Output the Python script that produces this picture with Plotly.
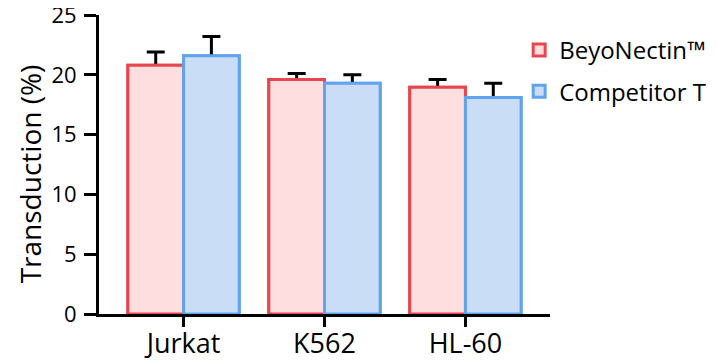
import plotly.graph_objects as go

categories = ["Jurkat", "K562", "HL-60"]
beyo_vals = [20.8, 19.6, 18.95]
beyo_err = [1.1, 0.5, 0.65]
comp_vals = [21.6, 19.3, 18.1]
comp_err = [1.6, 0.7, 1.2]
y_ticks = [0, 5, 10, 15, 20, 25]

RED_LINE = "#E8464E"
RED_FILL = "#FFDEE0"
BLUE_LINE = "#62A3EE"
BLUE_FILL = "#C9DDF7"
FONT = "Open Sans"
BW = 0.395

fig = go.Figure()

for name, vals, err, fill, line, off in [
    ("BeyoNectin™", beyo_vals, beyo_err, RED_FILL, RED_LINE, -BW),
    ("Competitor T", comp_vals, comp_err, BLUE_FILL, BLUE_LINE, 0.0),
]:
    fig.add_trace(go.Bar(
        x=categories, y=vals, width=BW, offset=off, showlegend=False,
        marker=dict(color=fill, line=dict(color=line, width=3)),
        error_y=dict(type="data", array=err, symmetric=True, color="black", thickness=3, width=9),
        hoverinfo="skip",
    ))

for i, (name, vals, fill, line, off) in enumerate([
    ("BeyoNectin™", beyo_vals, RED_FILL, RED_LINE, -BW),
    ("Competitor T", comp_vals, BLUE_FILL, BLUE_LINE, 0.0),
]):
    fig.add_trace(go.Bar(
        x=categories, y=vals, width=BW, offset=off, name=name,
        legendgroup=f"g{i}",
        marker=dict(color=fill, line=dict(color=line, width=3)),
    ))

fig.update_layout(
    width=710, height=352,
    margin=dict(l=91, r=166, t=7, b=46),
    barmode="overlay",
    plot_bgcolor="white", paper_bgcolor="white",
    font=dict(family=FONT, size=22, color="black"),
    showlegend=True,
    legend=dict(
        x=0.9316, y=0.9565, xanchor="left", yanchor="top",
        font=dict(family=FONT, size=24, color="black"),
        traceorder="grouped", tracegroupgap=7,
        bgcolor="rgba(0,0,0,0)",
    ),
    xaxis=dict(
        type="category", range=[-0.6, 2.6], automargin=False,
        showline=True, linecolor="black", linewidth=3,
        ticks="outside", ticklen=10, tickwidth=3, tickcolor="black",
        tickfont=dict(size=27), ticklabelstandoff=-6,
        showgrid=False, zeroline=False,
    ),
    yaxis=dict(
        range=[0, 25], tickvals=y_ticks, automargin=False,
        showline=True, linecolor="black", linewidth=3,
        ticks="outside", ticklen=12, tickwidth=3, tickcolor="black",
        tickfont=dict(size=22), ticklabelstandoff=3, ticklabeloverflow="allow",
        showgrid=False, zeroline=False,
    ),
    annotations=[dict(
        text="Transduction (%)", textangle=-90, showarrow=False,
        xref="paper", yref="paper", x=-0.1523, y=0.4682,
        xanchor="center", yanchor="middle",
        font=dict(family=FONT, size=28, color="black"),
    )],
)

fig.write_html("out.html")
